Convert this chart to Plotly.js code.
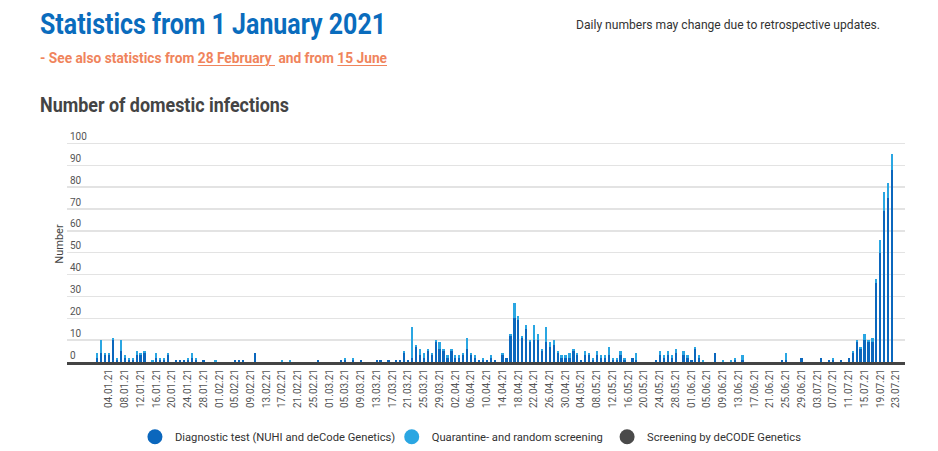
<!DOCTYPE html>
<html>
<head>
<meta charset="utf-8">
<script src="https://cdn.plot.ly/plotly-3.0.1.min.js"></script>
<style>
  html, body { margin:0; padding:0; background:#fff; width:938px; height:451px; overflow:hidden; }
  body { font-family: Roboto, 'DejaVu Sans', sans-serif; position:relative; }
  #chart { position:absolute; left:0; top:0; width:938px; height:451px; }
  .hdr { position:absolute; white-space:nowrap; transform-origin: 0 0; line-height:1.2; }
  #title { left:40px; top:6px; font-size:30px; font-weight:bold; color:#0a6cbd; }
  #sub { left:40px; top:49px; font-size:15px; font-weight:bold; color:#f0845c; }
  #sub u { text-decoration-thickness:1px; text-underline-offset:2px; }
  #note { left:576px; top:17px; font-size:13px; color:#333; }
  #h2 { left:40px; top:94px; font-size:19.5px; font-weight:bold; color:#444; }
</style>
</head>
<body>
<div id="chart"></div>
<div class="hdr" id="title" data-w="346">Statistics from 1 January 2021</div>
<div class="hdr" id="sub" data-w="347">- See also statistics from <u>28 February&nbsp;</u> and from <u>15 June</u></div>
<div class="hdr" id="note" data-w="304">Daily numbers may change due to retrospective updates.</div>
<div class="hdr" id="h2" data-w="249">Number of domestic infections</div>
<script>
// ---- data (daily, starting 1 January 2021) ----
const startDate = '2021-01-01';
const firstTickDate = '2021-01-04';
const lastTickDate = '2021-07-23';
const tickStepDays = 4;
const seriesNames = ['Diagnostic test (NUHI and deCode Genetics)', 'Quarantine- and random screening', 'Screening by deCODE Genetics'];
const seriesColors = ['#0b67bd', '#2aa6e2', '#4a4a4a'];

const diagnostic = [
  2,4,3,3,10,1,5,2,1,1,
  3,3,4,0,0,2,1,1,3,0,
  1,1,1,1,2,1,0,1,0,0,
  0,0,0,0,0,1,1,1,0,0,
  4,0,0,0,0,0,0,0,0,0,
  0,0,0,0,0,0,1,0,0,0,
  0,0,1,1,0,1,0,1,0,0,
  0,1,1,0,1,0,1,1,4,1,
  2,7,3,2,5,3,9,6,5,2,
  5,2,2,3,6,3,2,1,1,1,
  2,1,0,3,2,12,20,19,11,15,
  9,10,10,5,9,7,8,4,2,2,
  2,5,3,1,3,3,1,3,2,2,
  3,1,1,3,1,0,2,1,0,0,
  0,0,1,3,2,3,2,4,0,3,
  2,1,6,2,0,0,0,4,0,0,
  0,0,1,0,1,0,0,0,0,0,
  0,0,0,0,1,1,0,0,0,2,
  0,0,0,0,2,0,1,1,0,1,
  0,2,4,9,6,10,9,9,36,50,
  69,75,88
];
const quarantine = [
  2,6,1,1,1,1,5,1,1,1,
  2,1,1,0,1,2,1,1,1,0,
  0,0,0,1,2,1,0,0,0,0,
  1,0,0,0,0,0,0,0,0,0,
  0,0,0,0,0,0,0,1,0,1,
  0,0,0,0,0,0,0,0,0,0,
  0,0,0,1,0,1,0,0,0,0,
  0,0,0,0,0,0,0,0,1,0,
  14,1,3,2,1,1,1,3,1,1,
  1,1,1,1,5,1,1,0,1,0,
  1,0,0,1,0,1,7,2,1,2,
  1,7,3,1,7,2,2,1,1,1,
  2,1,1,0,2,1,1,2,1,1,
  4,1,1,2,1,0,0,3,0,0,
  0,0,0,2,1,2,1,2,0,2,
  1,0,1,1,1,0,0,0,0,1,
  0,1,1,0,2,0,0,0,0,0,
  0,0,0,0,0,3,0,0,0,0,
  0,0,0,0,0,0,0,1,0,0,
  0,0,1,1,1,3,1,2,2,6,
  9,7,7
];
const screening = new Array(diagnostic.length).fill(0);

// ---- build date categories ----
const DAY = 86400000;
const dates = diagnostic.map((_, i) => new Date(Date.parse(startDate) + i * DAY).toISOString().slice(0, 10));
const tickDates = [];
for (let t = Date.parse(firstTickDate); t <= Date.parse(lastTickDate); t += tickStepDays * DAY) {
  tickDates.push(new Date(t).toISOString().slice(0, 10));
}

const FONT = "Roboto, 'DejaVu Sans', sans-serif";
const valueSets = [diagnostic, quarantine, screening];
const legendIds = ['legend', 'legend2', 'legend3'];
const legendX = [0.0811, 0.3875, 0.6445];

const traces = [];
valueSets.forEach((vals, k) => {
  traces.push({
    type: 'bar', x: dates, y: vals, name: seriesNames[k],
    marker: { color: seriesColors[k], line: { width: 0 } },
    showlegend: false, hoverinfo: 'x+y+name'
  });
});
seriesNames.forEach((n, k) => {
  traces.push({
    type: 'scatter', mode: 'markers', x: [null], y: [null], name: n,
    marker: { color: seriesColors[k], size: 15, symbol: 'circle' },
    showlegend: true, legend: legendIds[k], hoverinfo: 'skip'
  });
});

const legendBase = (x) => ({
  orientation: 'h', x: x, xanchor: 'left', y: -0.317, yanchor: 'middle',
  font: { size: 11.2, color: '#333', family: FONT },
  itemsizing: 'trace', itemwidth: 30, bgcolor: 'rgba(0,0,0,0)'
});

const layout = {
  width: 938, height: 451,
  margin: { l: 67, r: 33, t: 125.5, b: 89, autoexpand: false },
  paper_bgcolor: '#fff', plot_bgcolor: '#fff',
  font: { family: FONT, color: '#555', size: 10 },
  barmode: 'stack', bargap: 0.42,
  xaxis: {
    type: 'date',
    range: ['2020-12-24 07:00', '2021-07-25 07:00'],
    tickvals: tickDates,
    tickformat: '%d.%m.%y', tickangle: -90,
    showgrid: false, zeroline: false,
    showline: true, linecolor: '#444', linewidth: 3,
    ticks: '', tickfont: { size: 10, color: '#555', family: FONT },
    automargin: false, fixedrange: true
  },
  yaxis: {
    range: [0, 108], dtick: 10, tick0: 0,
    showgrid: true, gridcolor: '#e3e3e3', gridwidth: 1.5,
    zeroline: false, showline: false, ticks: '',
    ticklabelposition: 'inside top',
    tickfont: { size: 10, color: '#555', family: FONT },
    title: { text: 'Number', font: { size: 11, color: '#444', family: FONT }, standoff: 4 },
    automargin: false, fixedrange: true
  },
  showlegend: true,
  legend: legendBase(legendX[0]),
  legend2: legendBase(legendX[1]),
  legend3: legendBase(legendX[2])
};

Plotly.newPlot('chart', traces, layout, { displayModeBar: false, staticPlot: true });

// condense header texts to the reference widths
document.querySelectorAll('.hdr').forEach(el => {
  const target = parseFloat(el.dataset.w);
  const w = el.getBoundingClientRect().width;
  if (w > 0) el.style.transform = 'scaleX(' + (target / w).toFixed(4) + ')';
});
</script>
</body>
</html>
